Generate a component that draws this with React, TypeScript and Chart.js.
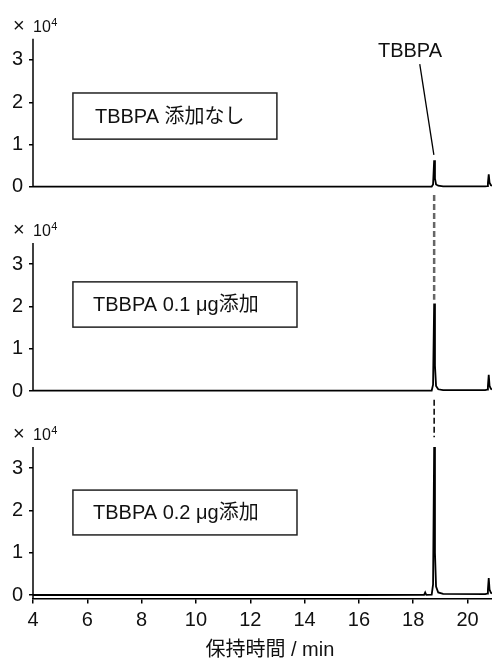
import React, { useEffect, useRef } from 'react';
import { Chart, registerables } from 'chart.js';

Chart.register(...registerables);

// ---- data (retention time in min, intensity in ×10^4) ----
const TIME = [4.0, 16.0, 18.4, 18.44, 18.48, 18.68, 18.73, 18.77, 18.8, 18.84, 18.92, 19.1, 20.65, 20.72, 20.75, 20.78, 20.81, 20.86, 20.9];
const NO_SPIKE = [0.01, 0.01, 0.01, 0.01, 0.01, 0.01, 0.06, 0.63, 0.2, 0.06, 0.03, 0.015, 0.015, 0.02, 0.1, 0.3, 0.1, 0.04, 0.03];
const SPIKE_01 = [0.01, 0.01, 0.01, 0.01, 0.01, 0.01, 0.15, 2.07, 0.6, 0.12, 0.04, 0.02, 0.02, 0.03, 0.12, 0.38, 0.12, 0.05, 0.04];
const SPIKE_02 = [0.0, 0.0, 0.005, 0.06, 0.005, 0.01, 0.25, 3.5, 1.0, 0.2, 0.06, 0.025, 0.02, 0.03, 0.13, 0.4, 0.13, 0.05, 0.04];
const SERIES = [NO_SPIKE, SPIKE_01, SPIKE_02];
const PANEL_LABELS = ['TBBPA 添加なし', 'TBBPA 0.1 μg添加', 'TBBPA 0.2 μg添加'];
const Y_TICKS = [0, 1, 2, 3];
const X_TICKS = [4, 6, 8, 10, 12, 14, 16, 18, 20];
const X_TITLE = '保持時間 / min';
const PEAK_LABEL = 'TBBPA';
const PEAK_TIME = 18.77;

// ---- layout / style constants ----
const FONT = "'Liberation Sans', 'Noto Sans CJK JP', Arial, sans-serif";
const PANEL_IDS = ['y1', 'y2', 'y3'];
const PANEL_RANGE = [
  { min: -0.213, max: 4.18, weight: 186 },
  { min: -0.213, max: 4.61, weight: 204 },
  { min: -0.083, max: 4.61, weight: 198.5 },
];
const AXIS_TOP = 3.5;
const TITLE_CENTER = 12.72;
const BOXES = [
  { x0: 5.47, x1: 12.98, yTop: 2.22, yBot: 1.13, tx: 6.28 },
  { x0: 5.47, x1: 13.72, yTop: 2.58, yBot: 1.51, tx: 6.21 },
  { x0: 5.47, x1: 13.72, yTop: 2.48, yBot: 1.42, tx: 6.21 },
];

const annotationPlugin = {
  id: 'chromAnnotations',
  afterDraw(chart: any) {
    const ctx: CanvasRenderingContext2D = chart.ctx;
    const xs = chart.scales.x;
    const ys = PANEL_IDS.map((id) => chart.scales[id]);
    ctx.save();
    ctx.fillStyle = '#111';
    ctx.strokeStyle = '#000';
    ctx.lineWidth = 1.5;
    ys.forEach((y: any, i: number) => {
      // y axis line
      const top = y.getPixelForValue(AXIS_TOP);
      const bottom = i === ys.length - 1 ? chart.chartArea.bottom : y.getPixelForValue(0);
      ctx.beginPath();
      ctx.moveTo(xs.left, top);
      ctx.lineTo(xs.left, bottom);
      ctx.stroke();
      // ×10^4 label
      const base = top - 7;
      ctx.textAlign = 'left';
      ctx.textBaseline = 'alphabetic';
      ctx.font = `20px ${FONT}`;
      ctx.fillText('×', 13, base);
      ctx.font = `16px ${FONT}`;
      ctx.fillText('10', xs.left, base);
      const w = ctx.measureText('10').width;
      ctx.font = `11px ${FONT}`;
      ctx.fillText('4', xs.left + w + 0.5, base - 6);
      // boxed label
      const b = BOXES[i];
      const bx0 = xs.getPixelForValue(b.x0);
      const bx1 = xs.getPixelForValue(b.x1);
      const by0 = y.getPixelForValue(b.yTop);
      const by1 = y.getPixelForValue(b.yBot);
      ctx.strokeStyle = '#222';
      ctx.lineWidth = 1.5;
      ctx.strokeRect(bx0, by0, bx1 - bx0, by1 - by0);
      ctx.font = `20px ${FONT}`;
      ctx.textBaseline = 'middle';
      ctx.fillText(PANEL_LABELS[i], xs.getPixelForValue(b.tx), (by0 + by1) / 2 + 1);
      ctx.strokeStyle = '#000';
    });

    // dashed connectors
    const px = xs.getPixelForValue(PEAK_TIME);
    ctx.setLineDash([6, 3]);
    ctx.strokeStyle = '#666';
    ctx.lineWidth = 2.5;
    ctx.beginPath();
    ctx.moveTo(px, ys[0].getPixelForValue(-0.19));
    ctx.lineTo(px, ys[1].getPixelForValue(2.16));
    ctx.stroke();
    ctx.strokeStyle = '#000';
    ctx.lineWidth = 1.5;
    ctx.beginPath();
    ctx.moveTo(px, ys[1].getPixelForValue(-0.21));
    ctx.lineTo(px, ys[2].getPixelForValue(3.73));
    ctx.stroke();
    ctx.setLineDash([]);

    // TBBPA label + leader
    ctx.font = `20px ${FONT}`;
    ctx.textAlign = 'center';
    ctx.textBaseline = 'alphabetic';
    ctx.fillText(PEAK_LABEL, xs.getPixelForValue(17.88), ys[0].getPixelForValue(3.08));
    ctx.lineWidth = 1.3;
    ctx.beginPath();
    ctx.moveTo(xs.getPixelForValue(18.24), ys[0].getPixelForValue(2.9));
    ctx.lineTo(xs.getPixelForValue(18.76), ys[0].getPixelForValue(0.76));
    ctx.stroke();

    // x axis title
    ctx.textBaseline = 'middle';
    ctx.fillText(X_TITLE, xs.getPixelForValue(TITLE_CENTER), xs.bottom - 11);
    ctx.restore();
  },
};

export default function App() {
  const ref = useRef<HTMLCanvasElement>(null);

  useEffect(() => {
    if (!ref.current) return;
    const yScales: any = {};
    PANEL_IDS.forEach((id, i) => {
      yScales[id] = {
        type: 'linear',
        position: 'left',
        stack: 'panels',
        stackWeight: PANEL_RANGE[i].weight,
        weight: 10 - i,
        min: PANEL_RANGE[i].min,
        max: PANEL_RANGE[i].max,
        afterBuildTicks: (s: any) => {
          s.ticks = Y_TICKS.map((v) => ({ value: v }));
        },
        afterFit: (s: any) => {
          s.width = 33;
          s.paddingTop = 0;
          s.paddingBottom = 0;
        },
        border: { display: false },
        grid: { display: true, drawOnChartArea: false, drawTicks: true, tickLength: 4, color: '#000', lineWidth: 1.5 },
        ticks: { font: { family: FONT, size: 20 }, color: '#111', padding: 6, callback: (v: any) => String(v) },
      };
    });

    const chart = new Chart(ref.current, {
      type: 'line',
      data: {
        datasets: SERIES.map((s, i) => ({
          data: TIME.map((t, k) => ({ x: t, y: s[k] })),
          yAxisID: PANEL_IDS[i],
          borderColor: '#000',
          borderWidth: 1.8,
          pointRadius: 0,
          tension: 0,
          fill: false,
        })),
      },
      options: {
        responsive: false,
        animation: false,
        layout: { padding: { top: 10, left: 0, right: 0, bottom: 0 } },
        plugins: { legend: { display: false }, tooltip: { enabled: false } },
        scales: {
          x: {
            type: 'linear',
            min: 4,
            max: 20.9,
            afterBuildTicks: (s: any) => {
              s.ticks = X_TICKS.map((v) => ({ value: v }));
            },
            afterFit: (s: any) => {
              s.height = 62.5;
              s.paddingLeft = 0;
              s.paddingRight = 0;
            },
            border: { display: true, color: '#000', width: 1.5 },
            grid: { display: true, drawOnChartArea: false, drawTicks: true, tickLength: 5, color: '#000', lineWidth: 1.5 },
            ticks: { font: { family: FONT, size: 20 }, color: '#111', padding: 5, maxRotation: 0, callback: (v: any) => String(v) },
            title: { display: false },
          },
          ...yScales,
        },
      },
      plugins: [annotationPlugin],
    } as any);
    return () => chart.destroy();
  }, []);

  return (
    <div style={{ position: 'absolute', left: 0, top: 0, width: 492, height: 661, background: '#fff' }}>
      <canvas ref={ref} width={492} height={661} style={{ display: 'block' }} />
    </div>
  );
}
